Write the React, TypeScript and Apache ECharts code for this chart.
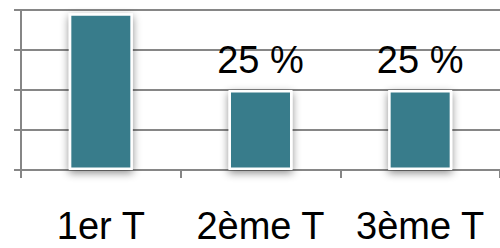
import React, { useEffect, useRef } from "react";
import * as echarts from "echarts";

const categories = ["1er T", "2ème T", "3ème T"];
const values = [49, 25, 25];
const showLabel = [false, true, true];
const yTicks = { min: 0, max: 50, interval: 12.5 };

const FONT = "'Liberation Sans Narrow', 'Arial Narrow', 'Liberation Sans', Arial, sans-serif";

export default function App() {
  const ref = useRef<HTMLDivElement>(null);
  useEffect(() => {
    if (!ref.current) return;
    const chart = echarts.init(ref.current, undefined, { renderer: "svg" });
    chart.setOption({
      animation: false,
      grid: { left: 21, top: 10, width: 486, bottom: 78 },
      xAxis: {
        type: "category",
        data: categories,
        axisLine: { show: true, lineStyle: { color: "#868686", width: 2 } },
        axisTick: { show: true, length: 8, lineStyle: { color: "#868686", width: 2 } },
        axisLabel: {
          color: "#000",
          fontFamily: FONT,
          fontSize: 38,
          lineHeight: 30,
          margin: 41,
          interval: 0,
        },
      },
      yAxis: {
        type: "value",
        min: yTicks.min,
        max: yTicks.max,
        interval: yTicks.interval,
        axisLine: { show: true, lineStyle: { color: "#868686", width: 2 } },
        axisTick: { show: true, length: 7, lineStyle: { color: "#868686", width: 2 } },
        axisLabel: { show: false },
        splitLine: { show: true, lineStyle: { color: "#868686", width: 2 } },
      },
      series: [
        {
          type: "bar",
          barWidth: 64,
          data: values.map((v, i) => ({
            value: v,
            label: { show: showLabel[i] },
          })),
          itemStyle: {
            color: "#377b8b",
            borderColor: "#ffffff",
            borderWidth: 2.5,
            shadowBlur: 8,
            shadowOffsetY: 3,
            shadowColor: "rgba(0,0,0,0.45)",
          },
          label: {
            position: "top",
            distance: 11,
            formatter: "{c} %",
            color: "#000",
            fontFamily: FONT,
            fontSize: 38,
            lineHeight: 38,
          },
        },
      ],
    });
    return () => chart.dispose();
  }, []);
  return <div ref={ref} style={{ width: 500, height: 248, position: "absolute", left: 0, top: 0 }} />;
}
